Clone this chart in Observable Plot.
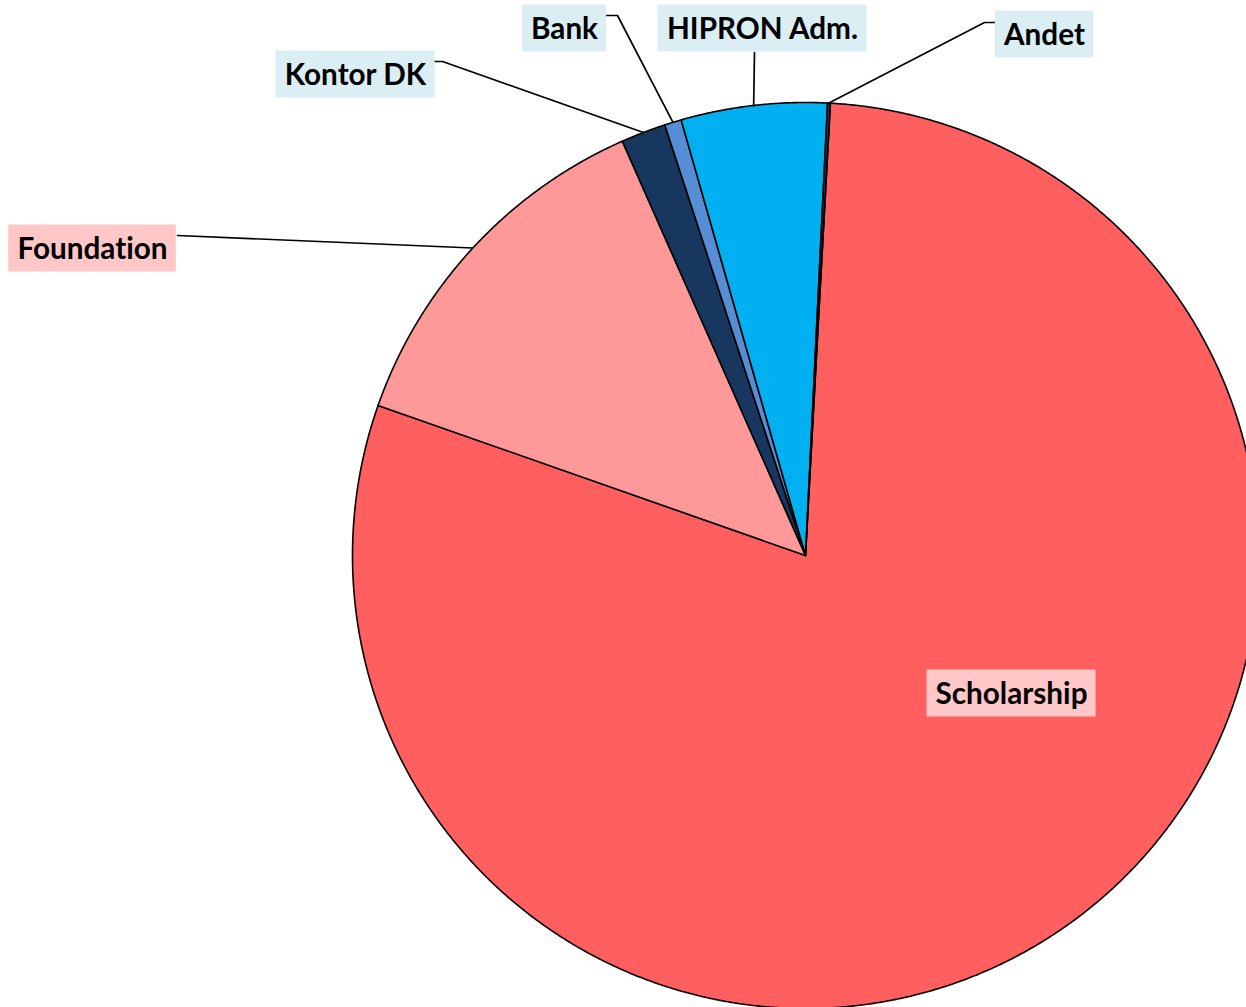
<!DOCTYPE html>
<html>
<head>
<meta charset="utf-8">
<script src="https://cdn.jsdelivr.net/npm/d3@7"></script>
<script src="https://cdn.jsdelivr.net/npm/@observablehq/plot@0.6"></script>
<style>
  html, body { margin: 0; padding: 0; background: #fff; overflow: hidden; }
  #chart svg { display: block; overflow: hidden; }
  #chart text { font-variant-ligatures: none; font-feature-settings: "liga" 0, "clig" 0; }
</style>
</head>
<body>
<div id="chart"></div>
<script>
// ---- data ----
const categories = ["Scholarship", "Foundation", "Kontor DK", "Bank", "HIPRON Adm.", "Andet"];
const shares = [79.5, 13.0, 1.6, 0.6, 5.2, 0.1];
const sliceColors = ["#FF5F5F", "#FF9999", "#17375E", "#558ED5", "#00B0F0", "#1F3864"];

// ---- layout (pixels) ----
const W = 1246, H = 1007;
const center = {x: 805, y: 555};
const radius = 453;
const startAngle = 3.15; // degrees clockwise from 12 o'clock
const labelFont = "Lato, 'Open Sans', sans-serif";
const labelLayout = {
  "Scholarship": {x: 1011, y: 693, bg: "pink", elbows: []},
  "Foundation":  {x: 92,   y: 248, bg: "pink", elbows: [[177, 235]]},
  "Kontor DK":   {x: 355,  y: 74,  bg: "blue", elbows: [[442, 61], [431, 61]]},
  "Bank":        {x: 564,  y: 28,  bg: "blue", elbows: [[617, 15], [606, 15]]},
  "HIPRON Adm.": {x: 762,  y: 28,  bg: "blue", elbows: [[754, 52]]},
  "Andet":       {x: 1044, y: 34,  bg: "blue", elbows: [[984, 22], [996, 22]]}
};
const boxPad = 8.5, boxH = 47;

// font size fitted so "Scholarship" spans ~152px like the reference
const ctx = document.createElement("canvas").getContext("2d");
ctx.font = `bold 30px ${labelFont}`;
const fontSize = Math.round(30 * 152 / ctx.measureText("Scholarship").width * 10) / 10;
ctx.font = `bold ${fontSize}px ${labelFont}`;

// ---- geometry from data ----
const total = d3.sum(shares);
let acc = 0;
const slices = categories.map((c, i) => {
  const a0 = startAngle + acc / total * 360;
  acc += shares[i];
  const a1 = startAngle + acc / total * 360;
  return {c, a0, a1, mid: (a0 + a1) / 2};
});
const pt = (deg, r) => {
  const t = deg * Math.PI / 180;
  return [center.x + r * Math.sin(t), center.y - r * Math.cos(t)];
};
const polys = [];
for (const s of slices) {
  polys.push({c: s.c, x: center.x, y: center.y});
  const n = Math.max(2, Math.ceil((s.a1 - s.a0) / 0.25));
  for (let k = 0; k <= n; ++k) {
    const [x, y] = pt(s.a0 + (s.a1 - s.a0) * k / n, radius);
    polys.push({c: s.c, x, y});
  }
}
const leaders = [];
for (const s of slices) {
  const L = labelLayout[s.c];
  if (!L.elbows.length) continue;
  const [x0, y0] = pt(s.mid, radius);
  leaders.push({c: s.c, x: x0, y: y0});
  for (const [x, y] of L.elbows) leaders.push({c: s.c, x, y});
}
const labels = categories.map(c => {
  const L = labelLayout[c];
  const w = ctx.measureText(c).width + 2 * boxPad;
  return {c, x: L.x, y: L.y, bg: L.bg, x1: L.x - w / 2, x2: L.x + w / 2, y1: L.y - boxH / 2, y2: L.y + boxH / 2};
});

const chart = Plot.plot({
  width: W, height: H,
  margin: 0,
  x: {domain: [0, W], range: [0, W], axis: null},
  y: {domain: [0, H], range: [0, H], axis: null},
  color: {domain: categories, range: sliceColors},
  style: {background: "white", overflow: "hidden"},
  marks: [
    Plot.line(leaders, {x: "x", y: "y", z: "c", stroke: "black", strokeWidth: 1.7, curve: "linear"}),
    Plot.line(polys, {x: "x", y: "y", z: "c", fill: "c", stroke: "black", strokeWidth: 1.6, curve: "linear-closed", strokeLinejoin: "round"}),
    Plot.rect(labels.filter(d => d.bg === "blue"), {x1: "x1", x2: "x2", y1: "y1", y2: "y2", fill: "#DAEEF3"}),
    Plot.rect(labels.filter(d => d.bg === "pink"), {x1: "x1", x2: "x2", y1: "y1", y2: "y2", fill: "#FFC7C7"}),
    Plot.text(labels, {x: "x", y: "y", dy: 1, text: "c", fontSize, fontWeight: "bold", fontFamily: labelFont, fill: "black"})
  ]
});
document.getElementById("chart").append(chart);
</script>
</body>
</html>
